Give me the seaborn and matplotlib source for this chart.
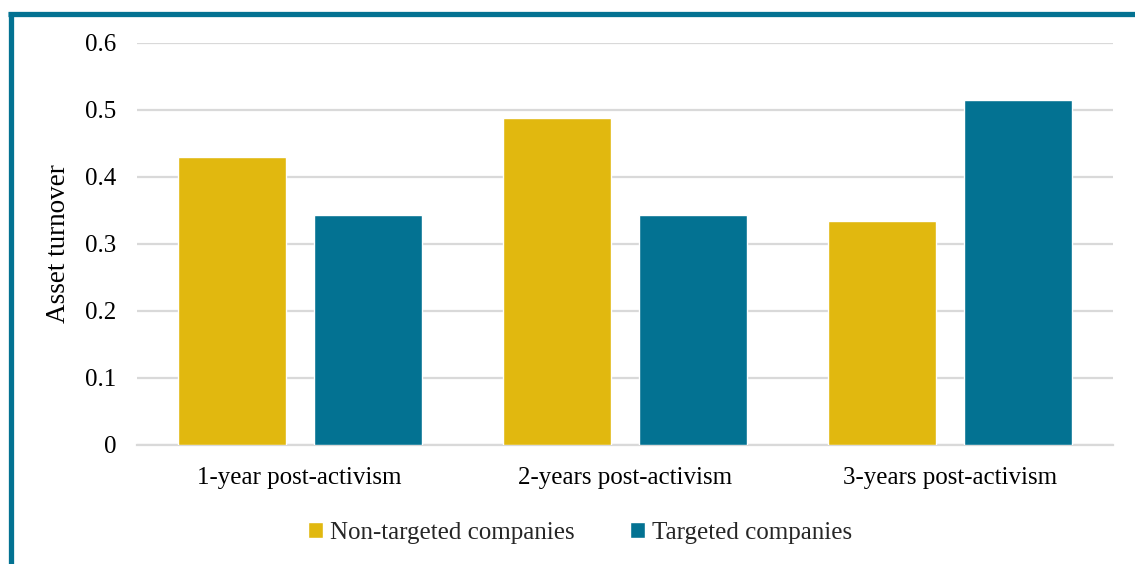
import pandas as pd
import matplotlib.pyplot as plt
from matplotlib.lines import Line2D
import seaborn as sns

# data
PERIODS = ['1-year post-activism', '2-years post-activism', '3-years post-activism']
NON_TARGETED = [0.430, 0.488, 0.334]
TARGETED = [0.343, 0.343, 0.515]
GROUPS = ['Non-targeted companies', 'Targeted companies']

YELLOW = '#E1B80F'
TEAL = '#037292'
GRID = '#D9D9D9'
FONT = ['Liberation Serif', 'DejaVu Serif']

df = pd.DataFrame({
    'period': PERIODS * 2,
    'value': NON_TARGETED + TARGETED,
    'group': [GROUPS[0]] * 3 + [GROUPS[1]] * 3,
})

sns.set_theme(style='white')
plt.rcParams['font.family'] = FONT

fig = plt.figure(figsize=(11.35, 5.64), dpi=100)
ax = fig.add_axes([0.1207, 0.211, 0.8599, 0.7128])

sns.barplot(data=df, x='period', y='value', hue='group',
            palette=[YELLOW, TEAL], width=0.836, gap=0.206,
            saturation=1, ax=ax, zorder=3)

ax.set_ylim(0, 0.6)
ax.set_yticks([0, 0.1, 0.2, 0.3, 0.4, 0.5, 0.6])
ax.set_yticklabels(['0', '0.1', '0.2', '0.3', '0.4', '0.5', '0.6'])
ax.set_xlim(-0.5, 2.5)
ax.yaxis.grid(True, color=GRID, linewidth=1.6, zorder=0)
ax.set_axisbelow(True)
for side in ['top', 'right', 'left']:
    ax.spines[side].set_visible(False)
ax.spines['bottom'].set_color(GRID)
ax.spines['bottom'].set_linewidth(1.6)
ax.tick_params(axis='both', length=0, labelsize=18, colors='black')
ax.tick_params(axis='y', pad=15)
ax.tick_params(axis='x', pad=16)
ax.set_xlabel('')
ax.set_ylabel('Asset turnover', fontsize=19.5, labelpad=10, color='black')

leg = ax.legend(loc='upper center', bbox_to_anchor=(0.454, -0.135), ncol=2,
                frameon=False, fontsize=18, handlelength=0.6, handleheight=0.6,
                handletextpad=0.3, columnspacing=2.2)

# teal frame on top and left edges
fig.add_artist(Line2D([0.007, 1.0], [0.975, 0.975], transform=fig.transFigure,
                      color=TEAL, linewidth=3.8, solid_capstyle='butt'))
fig.add_artist(Line2D([0.0093, 0.0093], [0.978, 0.0], transform=fig.transFigure,
                      color=TEAL, linewidth=3.8, solid_capstyle='butt'))

fig.savefig('out.png', dpi=100)
